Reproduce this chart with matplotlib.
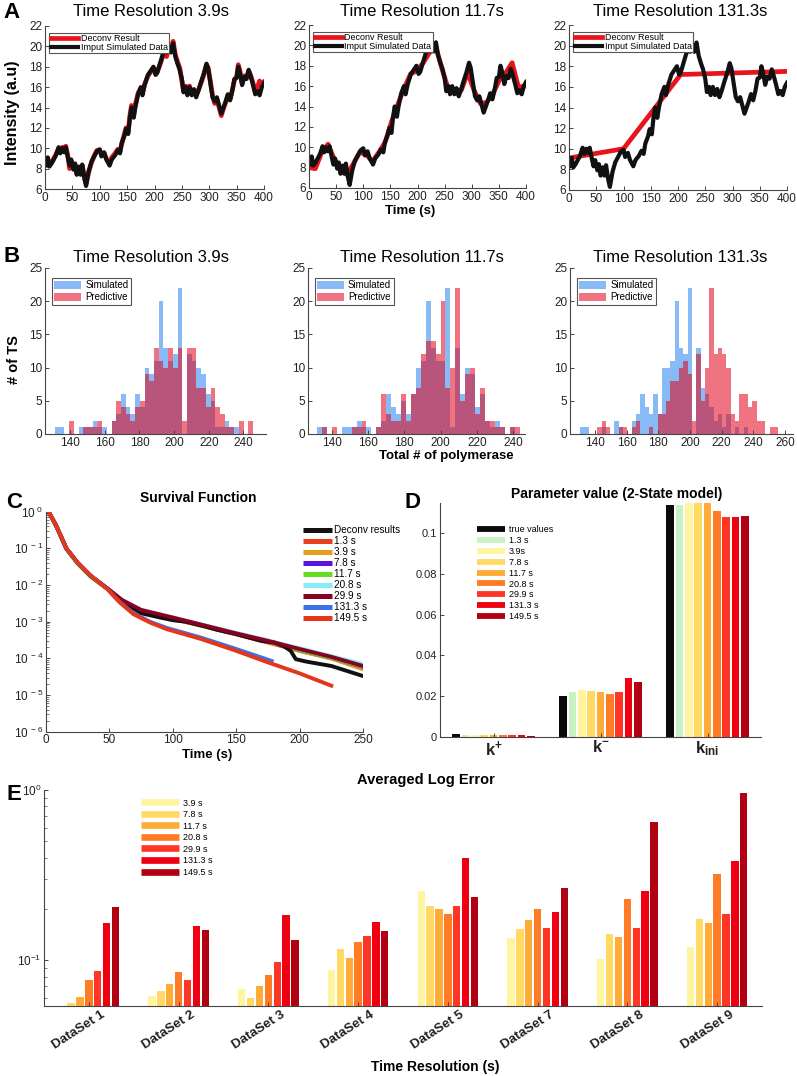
import numpy as np
import matplotlib
matplotlib.use("Agg")
import matplotlib.pyplot as plt
from matplotlib.lines import Line2D
from matplotlib.ticker import LogLocator, NullFormatter, FixedLocator
from matplotlib.transforms import ScaledTranslation

plt.rcParams["font.family"] = ["Liberation Sans", "DejaVu Sans"]
plt.rcParams["mathtext.fontset"] = "custom"
plt.rcParams["mathtext.rm"] = "Liberation Sans"
plt.rcParams["mathtext.bf"] = "Liberation Sans:bold"
plt.rcParams["mathtext.it"] = "Liberation Sans:italic"
plt.rcParams["mathtext.default"] = "regular"

W, H = 797, 1076

# ---- panel A: intensity traces ----
trace_t = [0, 3, 5, 8, 12, 15, 20, 25, 28, 32,
           35, 38, 42, 45, 48, 52, 55, 58, 62, 65,
           68, 72, 75, 80, 85, 90, 95, 100, 103, 108,
           112, 118, 122, 128, 133, 137, 140, 145, 148, 152,
           155, 158, 162, 165, 170, 175, 178, 182, 188, 193,
           198, 202, 205, 210, 215, 218, 222, 226, 230, 234,
           238, 242, 246, 250, 253, 257, 260, 264, 268, 272,
           276, 280, 285, 290, 295, 298, 302, 306, 310, 314,
           318, 322, 326, 330, 334, 338, 342, 346, 350, 353,
           356, 360, 364, 368, 372, 376, 380, 384, 388, 392,
           396, 400]
trace_input = [9.0, 8.3, 9.1, 8.2, 8.5, 8.8, 9.3, 10.1, 9.5, 10.0,
               9.6, 10.1, 9.0, 8.3, 8.9, 7.9, 8.5, 7.4, 8.2, 7.4,
               8.4, 7.0, 6.3, 7.8, 8.7, 9.2, 9.7, 9.9, 9.2, 9.6,
               8.9, 8.3, 8.9, 9.3, 9.8, 9.5, 10.5, 11.2, 11.9, 11.4,
               13.0, 14.0, 13.0, 14.0, 15.3, 16.0, 15.2, 16.2, 17.2, 17.6,
               18.0, 17.2, 17.4, 18.3, 19.2, 19.9, 19.4, 20.0, 19.4, 20.3,
               19.0, 18.3, 17.7, 16.8, 15.5, 16.0, 15.2, 16.0, 15.2, 15.8,
               15.0, 15.6, 16.5, 17.3, 18.3, 17.8, 16.4, 15.0, 14.6, 15.0,
               14.2, 13.4, 14.0, 14.6, 15.3, 14.7, 15.6, 16.8, 16.9, 18.0,
               17.4, 16.2, 17.0, 16.8, 17.7, 17.0, 16.2, 15.3, 15.6, 15.2,
               16.0, 16.4]
deconv_39 = [8.9, 8.5, 9.0, 8.3, 8.6, 8.9, 9.4, 10.0, 9.6, 10.1,
             9.8, 10.2, 9.2, 8.0, 8.7, 8.0, 8.4, 7.5, 8.1, 7.6,
             8.3, 7.2, 6.5, 7.7, 8.6, 9.3, 9.8, 9.8, 9.4, 9.5,
             9.0, 8.5, 9.1, 9.5, 9.9, 9.7, 10.4, 11.4, 12.0, 11.6,
             13.2, 14.2, 13.3, 14.3, 15.4, 15.9, 15.4, 16.3, 17.1, 17.5,
             17.9, 17.3, 17.5, 18.2, 19.0, 19.6, 19.0, 19.8, 19.5, 20.5,
             19.2, 18.5, 17.9, 16.6, 15.6, 16.1, 15.4, 16.1, 15.3, 15.7,
             15.2, 15.7, 16.4, 17.2, 18.2, 17.9, 16.6, 15.2, 14.4, 14.8,
             14.0, 13.2, 13.9, 14.5, 15.2, 14.8, 15.7, 16.7, 17.0, 18.2,
             17.6, 16.4, 17.1, 16.9, 17.6, 17.1, 16.4, 15.5, 16.0, 16.6,
             16.2, 16.5]
t_117 = [0, 11.7, 23.4, 35.1, 46.8, 58.5, 70.2, 81.9, 93.6, 105.3,
         117.0, 128.7, 140.4, 152.1, 163.8, 175.5, 187.2, 198.9, 210.6, 222.3,
         234.0, 245.7, 257.4, 269.1, 280.8, 292.5, 304.2, 315.9, 327.6, 339.3,
         351.0, 362.7, 374.4, 386.1, 397.8]
deconv_117 = [8.0, 7.9, 9.5, 10.3, 8.8, 8.0, 7.3, 8.4, 9.5, 9.3,
              8.6, 9.5, 10.5, 12.5, 14.2, 15.8, 17.2, 17.5, 18.3, 19.3,
              19.8, 17.6, 15.6, 15.6, 15.6, 17.3, 15.6, 14.3, 14.4, 15.3,
              16.6, 17.3, 18.3, 15.9, 16.0]
t_1313 = [0, 100, 205, 400]
deconv_1313 = [9.1, 10.0, 17.2, 17.5]
a_titles = ["Time Resolution 3.9s", "Time Resolution 11.7s", "Time Resolution 131.3s"]

# ---- panel B: histograms of total polymerase ----
bin_width = 2.72
sim1 = [1, 1, 0, 0, 0, 1, 1, 1, 2, 1, 1, 0, 2, 3, 6, 4, 3, 6, 4, 10,
        9, 11, 20, 13, 11, 12, 22, 0, 12, 11, 10, 9, 6, 5, 1, 1, 2, 1, 1, 0, 0, 0]
pred1 = [0, 0, 0, 2, 0, 0, 1, 1, 1, 2, 0, 0, 2, 5, 4, 3, 2, 4, 5, 9,
         8, 13, 11, 10, 13, 10, 13, 2, 13, 13, 7, 7, 4, 7, 4, 3, 1, 1, 0, 2, 0, 2]
sim2 = [1, 1, 0, 0, 0, 1, 1, 1, 2, 1, 1, 0, 1, 2, 6, 4, 3, 5, 3, 6,
        10, 11, 20, 13, 11, 11, 22, 1, 13, 6, 10, 9, 4, 6, 2, 1, 2, 1, 0, 1, 0]
pred2 = [0, 1, 0, 1, 0, 0, 0, 1, 1, 2, 0, 0, 1, 6, 3, 2, 2, 6, 2, 6,
         7, 12, 14, 14, 12, 20, 7, 10, 22, 5, 9, 10, 3, 7, 2, 2, 1, 1, 0, 1, 1]
sim3 = [1, 1, 0, 0, 0, 1, 0, 0, 2, 1, 0, 0, 2, 3, 6, 4, 3, 6, 3, 10,
        10, 11, 20, 13, 12, 22, 0, 13, 7, 6, 4, 2, 3, 1, 3, 0, 1, 0, 1, 0,
        0, 0, 0, 0, 0, 0]
pred3 = [0, 0, 0, 0, 1, 2, 1, 0, 0, 1, 1, 0, 1, 2, 0, 0, 1, 0, 3, 3,
         5, 8, 8, 10, 11, 9, 2, 12, 5, 10, 22, 12, 13, 12, 10, 3, 2, 6, 6, 4,
         5, 2, 2, 0, 1, 1]
bin_starts = [131.3, 132.0, 130.5]

# ---- panel C: survival functions ----
t_surv = [2, 8, 16, 25, 35, 48, 60, 75, 100, 125, 150, 175, 200, 225, 250]
surv_13 = [1, 0.42, 0.1, 0.04, 0.018, 0.0082, 0.0037, 0.0019, 0.0012, 0.00074, 0.00045, 0.00027, 0.00016, 0.0001, 0.000055]
surv_39 = [1, 0.42, 0.1, 0.04, 0.018, 0.0082, 0.0037, 0.0019, 0.0012, 0.00074, 0.00046, 0.00028, 0.00016, 0.0001, 0.00005]
surv_78 = [1, 0.41, 0.1, 0.04, 0.018, 0.0081, 0.0038, 0.002, 0.00125, 0.00078, 0.00047, 0.00029, 0.00017, 0.000105, 0.000058]
surv_117 = [1, 0.40, 0.095, 0.038, 0.017, 0.008, 0.0038, 0.002, 0.00125, 0.00078, 0.00047, 0.00029, 0.00017, 0.000105, 0.00006]
surv_208 = [1, 0.41, 0.1, 0.04, 0.018, 0.0082, 0.0039, 0.0021, 0.0013, 0.0008, 0.0005, 0.00031, 0.00019, 0.000115, 0.00007]
surv_299 = [1, 0.42, 0.1, 0.04, 0.018, 0.0083, 0.0039, 0.0021, 0.0013, 0.00079, 0.00048, 0.0003, 0.00018, 0.00011, 0.000062]
t_deconv = [2, 8, 16, 25, 35, 48, 60, 75, 90, 100, 110, 125, 135, 150, 160, 170, 180, 188, 193, 197, 205, 225, 250]
surv_deconv = [1, 0.42, 0.1, 0.04, 0.018, 0.0082, 0.0036, 0.0017, 0.0013, 0.0011, 0.001, 0.00075, 0.0006,
               0.00046, 0.00037, 0.0003, 0.00027, 0.00021, 0.00016, 0.000095, 0.000082, 0.000062, 0.000033]
t_1495 = [2, 8, 16, 25, 35, 48, 58, 69, 82, 95, 122, 148, 174, 200, 225]
surv_1495 = [1, 0.42, 0.1, 0.04, 0.018, 0.0080, 0.0034, 0.0016, 0.00095, 0.00063, 0.00034, 0.00017, 0.00008, 0.000039, 0.000018]
t_1313s = [2, 8, 16, 25, 35, 48, 58, 69, 82, 95, 122, 148, 178]
surv_1313 = [1, 0.42, 0.1, 0.04, 0.018, 0.0081, 0.0035, 0.0017, 0.001, 0.00068, 0.00037, 0.00019, 0.000085]

# ---- panel D: parameter values ----
rate_names = [r"$\mathbf{k^{+}}$", r"$\mathbf{k^{-}}$", r"$\mathbf{k_{ini}}$"]
d_labels = ["true values", "1.3 s", "3.9s", "7.8 s", "11.7 s", "20.8 s", "29.9 s", "131.3 s", "149.5 s"]
d_true = [0.0013, 0.0200, 0.1140]
d_13 = [0.0008, 0.0221, 0.1140]
d_39 = [0.0008, 0.0229, 0.1160]
d_78 = [0.0009, 0.0224, 0.1160]
d_117 = [0.0009, 0.0221, 0.1160]
d_208 = [0.0008, 0.0208, 0.1108]
d_299 = [0.0008, 0.0218, 0.1083]
d_1313 = [0.0006, 0.0290, 0.1083]
d_1495 = [0.0004, 0.0267, 0.1087]

# ---- panel E: averaged log error ----
datasets = ["DataSet 1", "DataSet 2", "DataSet 3", "DataSet 4", "DataSet 5", "DataSet 7", "DataSet 8", "DataSet 9"]
e_labels = ["3.9 s", "7.8 s", "11.7 s", "20.8 s", "29.9 s", "131.3 s", "149.5 s"]
e_39 = [0.054, 0.0617, 0.068, 0.087, 0.255, 0.134, 0.102, 0.12]
e_78 = [0.0556, 0.066, 0.0596, 0.116, 0.208, 0.152, 0.142, 0.175]
e_117 = [0.0608, 0.0722, 0.0706, 0.103, 0.200, 0.172, 0.136, 0.166]
e_208 = [0.0763, 0.0854, 0.082, 0.127, 0.186, 0.200, 0.230, 0.32]
e_299 = [0.0863, 0.0766, 0.098, 0.138, 0.208, 0.154, 0.154, 0.186]
e_1313 = [0.166, 0.158, 0.184, 0.167, 0.396, 0.192, 0.255, 0.38]
e_1495 = [0.206, 0.150, 0.131, 0.149, 0.236, 0.265, 0.645, 0.96]

heat = ["#fff4a0", "#ffd964", "#ffab38", "#ff7b26", "#ff3626", "#ee0010", "#b00012"]

fig = plt.figure(figsize=(W / 100, H / 100), dpi=100)


def px_axes(l, t, r, b):
    return fig.add_axes([l / W, 1 - b / H, (r - l) / W, (b - t) / H])


def fig_text(x, y, s, **kw):
    fig.text(x / W, 1 - y / H, s, ha=kw.pop("ha", "center"), va=kw.pop("va", "center"), **kw)


def style(ax, size=8.5):
    for side in ("top", "right"):
        ax.spines[side].set_visible(False)
    for side in ("left", "bottom"):
        ax.spines[side].set_color("#444444")
        ax.spines[side].set_linewidth(0.8)
    ax.tick_params(direction="in", length=3, width=0.7, colors="#444444",
                   labelcolor="#222222", labelsize=size, pad=2)
    ax.tick_params(which="minor", direction="in", length=1.8, width=0.5, colors="#444444")


def frame_legend(leg):
    leg.get_frame().set_edgecolor("#555555")
    leg.get_frame().set_linewidth(0.8)


# panel A
a_boxes = [(45, 26, 264, 189), (309, 25, 526, 188), (569, 25, 787, 190)]
a_fits = [(trace_t, deconv_39), (t_117, deconv_117), (t_1313, deconv_1313)]
a_centers = [151, 422, 680]
for box, (ft, fv), title, cx in zip(a_boxes, a_fits, a_titles, a_centers):
    ax = px_axes(*box)
    style(ax)
    red_line, = ax.plot(ft, fv, color="#e8141c", lw=3.4)
    black_line, = ax.plot(trace_t, trace_input, color="#111111", lw=3.0)
    ax.set_xlim(0, 400)
    ax.set_ylim(6, 22)
    ax.set_xticks(range(0, 401, 50))
    ax.set_yticks(range(6, 23, 2))
    leg = ax.legend([red_line, black_line], ["Deconv Result", "Imput Simulated Data"],
                    loc="upper left", bbox_to_anchor=(0.02, 0.96), borderaxespad=0,
                    fontsize=6.5, fancybox=False, framealpha=1, borderpad=0.15,
                    labelspacing=0.0, handlelength=3.0, handletextpad=0.3)
    frame_legend(leg)
    fig_text(cx, 11, title, fontsize=12)
fig_text(13, 113, "Intensity (a.u)", rotation=90, fontsize=11.5, fontweight="bold")
fig_text(410, 211, "Time (s)", fontsize=9.5, fontweight="bold")

# panel B
b_boxes = [(45, 268, 266, 434), (308, 268, 525, 434), (570, 268, 793, 434)]
b_xlims = [(125.5, 253), (127, 246.5), (124.2, 265)]
b_xticks = [range(140, 241, 20), range(140, 241, 20), range(140, 261, 20)]
for box, (sim, pred), start, xl, xt, title, cx in zip(
        b_boxes, [(sim1, pred1), (sim2, pred2), (sim3, pred3)], bin_starts,
        b_xlims, b_xticks, a_titles, a_centers):
    ax = px_axes(*box)
    style(ax)
    centers = start + bin_width * (np.arange(len(sim)) + 0.5)
    bs = ax.bar(centers, sim, width=bin_width, color="#88bbf5", edgecolor="none")
    bp = ax.bar(centers, pred, width=bin_width, color="#e30018", alpha=0.55, edgecolor="none")
    ax.set_xlim(*xl)
    ax.set_ylim(0, 25)
    ax.set_xticks(list(xt))
    ax.set_yticks(range(0, 26, 5))
    leg = ax.legend([bs, bp], ["Simulated", "Predictive"], loc="upper left",
                    bbox_to_anchor=(0.03, 0.94), borderaxespad=0, fontsize=7,
                    fancybox=False, framealpha=1, borderpad=0.25, labelspacing=0.2,
                    handlelength=2.8, handleheight=0.8, handletextpad=0.4)
    frame_legend(leg)
    fig_text(cx, 257, title, fontsize=12)
fig_text(14, 360, "# of TS", rotation=90, fontsize=10.5, fontweight="bold")
fig_text(446, 456, "Total # of polymerase", fontsize=9.5, fontweight="bold")

# panel C
ax = px_axes(46, 511.7, 363, 731.7)
style(ax)
ax.set_yscale("log")
c_series = [
    (t_surv, surv_13, "#e8401c", "1.3 s"),
    (t_surv, surv_39, "#e2a11c", "3.9 s"),
    (t_surv, surv_78, "#5a12e0", "7.8 s"),
    (t_surv, surv_117, "#62dd22", "11.7 s"),
    (t_surv, surv_208, "#86eef6", "20.8 s"),
    (t_deconv, surv_deconv, "#111111", "Deconv results"),
    (t_surv, surv_299, "#8b0022", "29.9 s"),
    (t_1313s, surv_1313, "#3a70e8", "131.3 s"),
    (t_1495, surv_1495, "#e6361a", "149.5 s"),
]
handles = {}
for tt, vv, col, lab in c_series:
    handles[lab], = ax.plot(tt, vv, color=col, lw=2.8)
ax.set_xlim(0, 250)
ax.set_ylim(1e-6, 1)
ax.set_xticks(range(0, 251, 50))
ax.yaxis.set_major_locator(FixedLocator([10.0 ** e for e in range(-6, 1)]))
ax.set_yticklabels([f"$10^{{\\ {e}}}$" for e in range(-6, 1)])
ax.yaxis.set_minor_locator(LogLocator(base=10, subs=np.arange(2, 10)))
ax.yaxis.set_minor_formatter(NullFormatter())
c_order = ["Deconv results", "1.3 s", "3.9 s", "7.8 s", "11.7 s", "20.8 s", "29.9 s", "131.3 s", "149.5 s"]
c_handles = [Line2D([], [], color=handles[k].get_color(), lw=3.6, solid_capstyle="butt") for k in c_order]
fig.legend(c_handles, c_order, loc="upper left", bbox_to_anchor=(303 / W, 1 - 525 / H),
           frameon=False, fontsize=7.2, borderaxespad=0, borderpad=0, labelspacing=0.1,
           handlelength=2.9, handletextpad=0.2)
fig_text(198, 498, "Survival Function", fontsize=10, fontweight="bold")
fig_text(207, 755, "Time (s)", fontsize=9.5, fontweight="bold")

# panel D
ax = px_axes(440, 503.3, 761, 736.7)
style(ax, size=8)
d_series = [d_true, d_13, d_39, d_78, d_117, d_208, d_299, d_1313, d_1495]
d_colors = ["#0a0a0a", "#c8f2c4"] + heat
slot = 0.0872
xpos = np.arange(1, 4)
for j, (vals, col) in enumerate(zip(d_series, d_colors)):
    ax.bar(xpos + (j - 4) * slot, vals, width=0.074, color=col, edgecolor="none")
ax.set_xlim(0.5, 3.5)
ax.set_ylim(0, 0.1148)
ax.set_xticks(xpos)
ax.set_xticklabels(rate_names, fontsize=12)
ax.set_yticks([0, 0.02, 0.04, 0.06, 0.08, 0.1])
ax.set_yticklabels(["0", "0.02", "0.04", "0.06", "0.08", "0.1"])
d_handles = [Line2D([], [], color=c, lw=4.2, solid_capstyle="butt") for c in d_colors]
fig.legend(d_handles, d_labels, loc="upper left", bbox_to_anchor=(477 / W, 1 - 525.5 / H),
           frameon=False, fontsize=6.5, borderaxespad=0, borderpad=0, labelspacing=0.2,
           handlelength=3.1, handletextpad=0.4)
fig_text(617, 494, "Parameter value (2-State model)", fontsize=10, fontweight="bold")

# panel E
ax = px_axes(44, 790, 762, 1006)
style(ax)
ax.set_yscale("log")
floor = 0.0537
e_series = [e_39, e_78, e_117, e_208, e_299, e_1313, e_1495]
eslot = 0.0987
gpos = np.arange(1, len(datasets) + 1)
for j, (vals, col) in enumerate(zip(e_series, heat)):
    ax.bar(gpos + (j - 3) * eslot, np.array(vals) - floor * 0.5, bottom=floor * 0.5,
           width=0.082, color=col, edgecolor="none")
ax.set_xlim(0.5, len(datasets) + 0.5)
ax.set_ylim(floor, 1.0)
ax.yaxis.set_major_locator(FixedLocator([0.1, 1.0]))
ax.set_yticklabels(["$10^{-1}$", "$10^{0}$"])
ax.yaxis.set_minor_locator(LogLocator(base=10, subs=np.arange(2, 10)))
ax.yaxis.set_minor_formatter(NullFormatter())
ax.set_xticks(gpos)
ax.set_xticklabels(datasets, rotation=33, ha="right", rotation_mode="anchor",
                   fontsize=9.5, fontweight="bold")
shift = ScaledTranslation(0.12, 0.0, fig.dpi_scale_trans)
for lbl in ax.get_xticklabels():
    lbl.set_transform(lbl.get_transform() + shift)
e_handles = [Line2D([], [], color=c, lw=4.8, solid_capstyle="butt") for c in heat]
fig.legend(e_handles, e_labels, loc="upper left", bbox_to_anchor=(141 / W, 1 - 798.5 / H),
           frameon=False, fontsize=6.5, borderaxespad=0, borderpad=0, labelspacing=0.28,
           handlelength=4.2, handletextpad=0.4)
fig_text(426, 780, "Averaged Log Error", fontsize=10.5, fontweight="bold")
fig_text(435, 1067, "Time Resolution (s)", fontsize=10, fontweight="bold")

# panel letters
for letter, x, y in [("A", 12, 13), ("B", 12, 257), ("C", 14, 502), ("D", 412, 502), ("E", 14, 794)]:
    fig_text(x, y, letter, fontsize=16, fontweight="bold")

fig.savefig("out.png", dpi=100)
